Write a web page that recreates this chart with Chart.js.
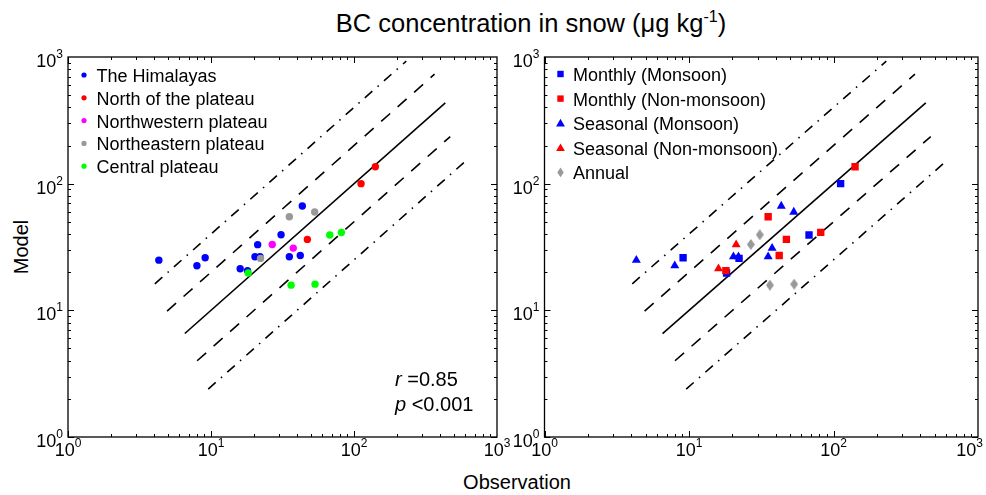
<!DOCTYPE html>
<html>
<head>
<meta charset="utf-8">
<script src="https://cdn.jsdelivr.net/npm/chart.js@4.4.0/dist/chart.umd.min.js"></script>
<style>
  body { margin: 0; width: 986px; height: 495px; background: #fff; position: relative; overflow: hidden;
         font-family: "Liberation Sans", Arial, sans-serif; color: #000; }
  #title { position: absolute; left: 531px; top: 8px; transform: translateX(-50%); font-size: 25.5px; white-space: nowrap; }
  #title sup { font-size: 16px; }
  #xlab { position: absolute; left: 517px; top: 471px; transform: translateX(-50%); font-size: 20px; }
  #ylab { position: absolute; left: 21px; top: 247px; transform: translate(-50%, -50%) rotate(-90deg); font-size: 20px; }
  #stats { position: absolute; left: 395px; top: 367px; font-size: 20px; line-height: 25px; }
  #left { position: absolute; left: 0; top: 0; }
  #right { position: absolute; left: 490px; top: 0; }
</style>
</head>
<body>
<div id="title">BC concentration in snow (μg kg<sup>-1</sup>)</div>
<div id="ylab">Model</div>
<div id="xlab">Observation</div>
<canvas id="left" width="520" height="495"></canvas>
<canvas id="right" width="496" height="495"></canvas>
<div id="stats"><i>r</i> =0.85<br><i>p</i> &lt;0.001</div>
<script>
// ---- data (observation, model) ----
// left panel, by region
const himalayasObs = [4.32, 9.1, 7.97, 16.0, 18.0, 21.2, 20.3, 22.0, 30.9, 43.5, 35.3, 42.1];
const himalayasMod = [24.9, 26.0, 22.5, 21.3, 20.6, 33.0, 26.5, 26.5, 39.5, 66.6, 26.5, 27.1];
const northObs = [47.2, 112, 141];
const northMod = [36.3, 100, 136];
const nwPlateauObs = [26.8, 37.6];
const nwPlateauMod = [33.1, 31.0];
const nePlateauObs = [22.2, 35.3, 53.1];
const nePlateauMod = [25.7, 54.8, 59.7];
const centralObs = [18.2, 67.7, 81.6, 36.3, 53.4];
const centralMod = [19.7, 39.3, 41.2, 15.8, 16.1];

// right panel, by sampling type
const monthlyMonsoonObs = [9.1, 18.2, 22.2, 67.7, 112];
const monthlyMonsoonMod = [26.0, 19.7, 25.7, 39.3, 100];
const monthlyNonObs = [18.0, 35.3, 42.1, 47.2, 81.6, 141];
const monthlyNonMod = [20.6, 54.8, 27.1, 36.3, 41.2, 136];
const seasonalMonsoonObs = [4.32, 7.97, 20.3, 22.0, 43.5, 53.1, 37.6, 35.3];
const seasonalMonsoonMod = [24.9, 22.5, 26.5, 26.5, 66.6, 59.7, 31.0, 26.5];
const seasonalNonObs = [16.0, 21.2];
const seasonalNonMod = [21.3, 33.0];
const annualObs = [30.9, 26.8, 36.3, 53.4];
const annualMod = [39.5, 33.1, 15.8, 16.1];

// reference lines: model = ratio * observation, drawn between these observations
const lineRatios = [1, 2, 0.5, 4, 0.25];
const lineFrom = [6.56, 4.93, 8.0, 4.05, 9.56];
const lineTo = [435, 366, 471, 232, 617];

const tickPowers = [0, 1, 2, 3];

const FONT = '"Liberation Sans", Arial, sans-serif';

function pts(xs, ys) { return xs.map((x, i) => ({x: x, y: ys[i]})); }

function diamond(w, h, color) {
  const c = document.createElement('canvas');
  c.width = w; c.height = h;
  const g = c.getContext('2d');
  g.fillStyle = color;
  g.beginPath();
  g.moveTo(w / 2, 0); g.lineTo(w, h / 2); g.lineTo(w / 2, h); g.lineTo(0, h / 2);
  g.closePath(); g.fill();
  return c;
}

function guideLines() {
  const dashes = [[], [12, 10], [12, 10], [10, 7, 1.5, 7], [10, 7, 1.5, 7]];
  return lineRatios.map((r, i) => ({
    type: 'line',
    data: [{x: lineFrom[i], y: lineFrom[i] * r}, {x: lineTo[i], y: lineTo[i] * r}],
    borderColor: '#000', borderWidth: 1.6, borderDash: dashes[i],
    pointRadius: 0, fill: false, order: 20 + i
  }));
}

function marker(ctx, shape, x, y, color, s) {
  ctx.fillStyle = color;
  ctx.beginPath();
  if (shape === 'circle') ctx.arc(x, y, s, 0, Math.PI * 2);
  else if (shape === 'rect') ctx.rect(x - s, y - s, 2 * s, 2 * s);
  else if (shape === 'triangle') { ctx.moveTo(x, y - s * 1.1); ctx.lineTo(x + s * 1.1, y + s * 0.8); ctx.lineTo(x - s * 1.1, y + s * 0.8); ctx.closePath(); }
  else if (shape === 'diamond') { ctx.moveTo(x, y - s * 1.5); ctx.lineTo(x + s, y); ctx.lineTo(x, y + s * 1.5); ctx.lineTo(x - s, y); ctx.closePath(); }
  ctx.fill();
}

// frame, inward ticks, 10^n labels and the legend inside the plot
const framePlugin = {
  id: 'frame',
  afterDatasetsDraw(chart, args, opts) {
    const ctx = chart.ctx, a = chart.chartArea;
    const xs = chart.scales.x, ys = chart.scales.y;
    ctx.save();
    ctx.strokeStyle = '#000';
    ctx.lineWidth = 1;
    ctx.beginPath();
    for (let e = 0; e < 3; e++) {
      for (let m = 1; m < 10; m++) {
        const v = m * Math.pow(10, e);
        const len = m === 1 ? 6 : 3;
        const px = Math.round(xs.getPixelForValue(v)) + 0.5;
        const py = Math.round(ys.getPixelForValue(v)) + 0.5;
        ctx.moveTo(px, a.bottom); ctx.lineTo(px, a.bottom - len);
        ctx.moveTo(px, a.top); ctx.lineTo(px, a.top + len);
        ctx.moveTo(a.left, py); ctx.lineTo(a.left + len, py);
        ctx.moveTo(a.right, py); ctx.lineTo(a.right - len, py);
      }
    }
    ctx.stroke();
    ctx.lineWidth = 1.3;
    ctx.strokeRect(a.left, a.top, a.right - a.left, a.bottom - a.top);

    ctx.fillStyle = '#000';
    ctx.textBaseline = 'alphabetic';
    tickPowers.forEach(p => {
      const v = Math.pow(10, p);
      ctx.font = '18px ' + FONT;
      const w10 = ctx.measureText('10').width;
      ctx.font = '12px ' + FONT;
      const ws = ctx.measureText(String(p)).width;
      // x axis (kept inside the canvas at the far right)
      const px = xs.getPixelForValue(v);
      const x0 = Math.min(px - (w10 + ws) / 2, chart.width - 3 - (w10 + ws));
      ctx.font = '18px ' + FONT;
      ctx.fillText('10', x0, a.bottom + 19);
      ctx.font = '12px ' + FONT;
      ctx.fillText(String(p), x0 + w10, a.bottom + 10);
      // y axis
      const py = ys.getPixelForValue(v);
      const y0 = a.left - 5 - (w10 + ws);
      ctx.font = '18px ' + FONT;
      ctx.fillText('10', y0, py + 10);
      ctx.font = '12px ' + FONT;
      ctx.fillText(String(p), y0 + w10, py + 1);
    });

    ctx.font = '18px ' + FONT;
    ctx.textBaseline = 'middle';
    opts.items.forEach((it, i) => {
      const y = a.top + opts.first + i * opts.gap;
      marker(ctx, it.shape, a.left + 16, y - 1, it.color, it.size);
      ctx.fillStyle = '#000';
      ctx.fillText(it.label, a.left + 28.5, y + 1);
    });
    ctx.restore();
  }
};

function logScales() {
  return {
    x: {type: 'logarithmic', min: 1, max: 1000, display: false},
    y: {type: 'logarithmic', min: 1, max: 1000, display: false}
  };
}

function makeChart(id, datasets, padding, legend) {
  return new Chart(document.getElementById(id), {
    type: 'scatter',
    data: {datasets: datasets.concat(guideLines())},
    options: {
      responsive: false,
      animation: false,
      layout: {padding: padding},
      scales: logScales(),
      plugins: {legend: {display: false}, tooltip: {enabled: false}, frame: legend}
    },
    plugins: [framePlugin]
  });
}

function dots(xs, ys, color, order) {
  return {data: pts(xs, ys), pointStyle: 'circle', pointRadius: 3.7, pointBorderWidth: 0,
          backgroundColor: color, borderColor: color, order: order};
}

makeChart('left', [
  dots(himalayasObs, himalayasMod, '#0000ff', 5),
  dots(northObs, northMod, '#ff0000', 4),
  dots(nwPlateauObs, nwPlateauMod, '#ff00ff', 3),
  dots(nePlateauObs, nePlateauMod, '#999999', 2),
  dots(centralObs, centralMod, '#00ff00', 1)
], {left: 68, right: 23, top: 57, bottom: 58}, {
  first: 19, gap: 22.8,
  items: [
    {label: 'The Himalayas', color: '#0000ff', shape: 'circle', size: 2.6},
    {label: 'North of the plateau', color: '#ff0000', shape: 'circle', size: 2.6},
    {label: 'Northwestern plateau', color: '#ff00ff', shape: 'circle', size: 2.6},
    {label: 'Northeastern plateau', color: '#999999', shape: 'circle', size: 2.6},
    {label: 'Central plateau', color: '#00ff00', shape: 'circle', size: 2.6}
  ]
});

makeChart('right', [
  {data: pts(monthlyMonsoonObs, monthlyMonsoonMod), pointStyle: 'rect', pointRadius: 5.2, pointBorderWidth: 0,
   backgroundColor: '#0000ff', borderColor: '#0000ff', order: 5},
  {data: pts(monthlyNonObs, monthlyNonMod), pointStyle: 'rect', pointRadius: 5.2, pointBorderWidth: 0,
   backgroundColor: '#ff0000', borderColor: '#ff0000', order: 4},
  {data: pts(seasonalMonsoonObs, seasonalMonsoonMod), pointStyle: 'triangle', pointRadius: 5.2, pointBorderWidth: 0,
   backgroundColor: '#0000ff', borderColor: '#0000ff', order: 3},
  {data: pts(seasonalNonObs, seasonalNonMod), pointStyle: 'triangle', pointRadius: 5.2, pointBorderWidth: 0,
   backgroundColor: '#ff0000', borderColor: '#ff0000', order: 2},
  {data: pts(annualObs, annualMod), pointStyle: diamond(8, 11, '#999999'), pointRadius: 5, pointBorderWidth: 0,
   backgroundColor: '#999999', borderColor: '#999999', order: 1}
], {left: 54.5, right: 8, top: 57, bottom: 58}, {
  first: 18, gap: 24.6,
  items: [
    {label: 'Monthly (Monsoon)', color: '#0000ff', shape: 'rect', size: 3.2},
    {label: 'Monthly (Non-monsoon)', color: '#ff0000', shape: 'rect', size: 3.2},
    {label: 'Seasonal (Monsoon)', color: '#0000ff', shape: 'triangle', size: 4},
    {label: 'Seasonal (Non-monsoon)', color: '#ff0000', shape: 'triangle', size: 4},
    {label: 'Annual', color: '#999999', shape: 'diamond', size: 3.2}
  ]
});
</script>
</body>
</html>
